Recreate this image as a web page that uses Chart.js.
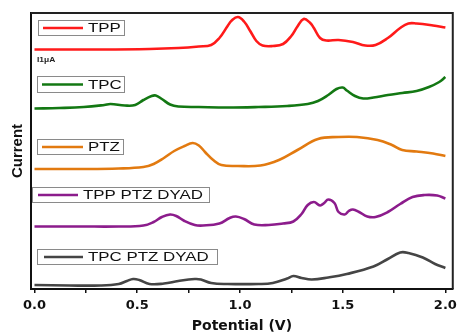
<!DOCTYPE html>
<html>
<head>
<meta charset="utf-8">
<script src="https://cdn.jsdelivr.net/npm/chart.js@4/dist/chart.umd.min.js"></script>
<style>
  html, body { margin: 0; padding: 0; background: #fff; }
  #wrap { width: 462px; height: 333px; }
</style>
</head>
<body>
<div id="wrap"><canvas id="cv" width="462" height="333"></canvas></div>
<script>
// potential (V) vs current (arbitrary units, curves stacked with offsets)
const tppV = [0.00, 0.32, 0.56, 0.70, 0.80, 0.86, 0.90, 0.94, 0.96, 0.99, 1.02, 1.05, 1.08, 1.11, 1.16, 1.21, 1.25, 1.28, 1.31, 1.34, 1.36, 1.39, 1.42, 1.48, 1.55, 1.61, 1.66, 1.72, 1.78, 1.82, 1.86, 1.94, 2.00];
const tppI = [239.5, 239.5, 240, 241, 242.5, 244, 251, 263, 268.5, 272, 267.5, 258, 248, 243.5, 243, 245, 253, 262.5, 270, 266.5, 261, 251, 248.5, 249, 247, 243.5, 244, 251, 261, 265.5, 265.5, 263.5, 261.5];

const tpcV = [0.00, 0.12, 0.24, 0.34, 0.37, 0.44, 0.49, 0.53, 0.57, 0.59, 0.62, 0.66, 0.70, 0.80, 0.94, 1.09, 1.23, 1.33, 1.38, 1.43, 1.47, 1.50, 1.52, 1.56, 1.60, 1.65, 1.72, 1.79, 1.86, 1.92, 1.97, 2.00];
const tpcI = [180.5, 181, 182, 184, 185, 183.5, 184, 189, 193, 193.5, 190, 184.5, 182.5, 182, 181.5, 182, 183, 185, 188, 194, 200, 201.5, 198.5, 193, 190.5, 191.5, 194, 196, 198, 202, 207, 212];

const ptzV = [0.00, 0.22, 0.41, 0.53, 0.58, 0.63, 0.68, 0.73, 0.77, 0.80, 0.83, 0.87, 0.91, 0.99, 1.10, 1.19, 1.28, 1.38, 1.48, 1.57, 1.67, 1.74, 1.79, 1.86, 1.94, 2.00];
const ptzI = [120, 120, 120.5, 122, 125, 131, 138, 143, 146, 143.5, 137, 129, 124, 123, 123.5, 129, 139, 150, 152, 152, 149, 144, 139, 137.5, 135.5, 133];

const tppPtzV = [0.00, 0.22, 0.41, 0.53, 0.58, 0.62, 0.66, 0.69, 0.73, 0.78, 0.82, 0.90, 0.95, 0.98, 1.02, 1.07, 1.14, 1.21, 1.26, 1.30, 1.33, 1.36, 1.39, 1.41, 1.43, 1.46, 1.48, 1.51, 1.53, 1.55, 1.58, 1.62, 1.66, 1.72, 1.78, 1.84, 1.90, 1.96, 2.00];
const tppPtzI = [62.5, 62.5, 62.5, 63.5, 67, 72, 74.5, 73, 68, 64, 63.5, 65.5, 71, 72.5, 70, 64.5, 64, 65.5, 67.5, 75, 84, 87, 83.5, 86, 89.5, 86, 77, 74.5, 78, 79.5, 77, 72.5, 72, 77, 85, 92, 94, 93.5, 90.5];

const tpcPtzV = [0.00, 0.17, 0.32, 0.41, 0.45, 0.48, 0.51, 0.56, 0.63, 0.70, 0.78, 0.81, 0.86, 0.94, 1.09, 1.16, 1.23, 1.26, 1.30, 1.35, 1.43, 1.52, 1.65, 1.72, 1.78, 1.82, 1.89, 1.95, 2.00];
const tpcPtzI = [4, 3.5, 3.5, 5, 8, 10, 9, 5, 5.5, 8, 10, 9.5, 6, 5, 5, 6, 10.5, 13, 11, 9.5, 11.5, 15, 22.5, 30, 36.5, 36, 31.5, 25, 21];

const seriesNames = ['TPP', 'TPC', 'PTZ', 'TPP PTZ DYAD', 'TPC PTZ DYAD'];
const seriesColors = ['#ff1a1a', '#137813', '#e27a10', '#8c1c8c', '#454545'];
const xTickLabels = [0, 0.5, 1.0, 1.5, 2.0];

const pairs = [[tppV, tppI], [tpcV, tpcI], [ptzV, ptzI], [tppPtzV, tppPtzI], [tpcPtzV, tpcPtzI]];

const datasets = pairs.map(([v, i], k) => ({
  label: seriesNames[k],
  data: v.map((x, n) => ({ x: x, y: i[n] })),
  borderColor: seriesColors[k],
  borderWidth: 2.6,
  pointRadius: 0,
  fill: false,
  tension: 0.4
}));

// boxed labels sitting inside the plot + frame top/right
const tagPlugin = {
  id: 'tags',
  afterDatasetsDraw(chart, args, opts) {
    const { ctx, chartArea: a } = chart;
    ctx.save();
    ctx.strokeStyle = '#222';
    ctx.lineWidth = 2;
    ctx.beginPath();
    ctx.moveTo(a.left, a.top);
    ctx.lineTo(a.right, a.top);
    ctx.lineTo(a.right, a.bottom);
    ctx.stroke();

    opts.boxes.forEach((b, i) => {
      const ds = chart.data.datasets[i];
      const x = a.left + b.x, y = a.top + b.y;
      ctx.fillStyle = '#fff';
      ctx.fillRect(x, y, b.w, b.h);
      ctx.strokeStyle = '#8a8a8a';
      ctx.lineWidth = 1;
      ctx.strokeRect(x + 0.5, y + 0.5, b.w, b.h);
      const my = y + b.h / 2 + 0.5;
      ctx.strokeStyle = ds.borderColor;
      ctx.lineWidth = 2.6;
      ctx.beginPath();
      ctx.moveTo(x + b.line[0], my);
      ctx.lineTo(x + b.line[1], my);
      ctx.stroke();
      ctx.fillStyle = '#111';
      ctx.font = '13px "Liberation Sans", Arial, sans-serif';
      ctx.textBaseline = 'middle';
      ctx.save();
      ctx.translate(x + b.line[1] + 5, my + 0.5);
      ctx.scale(1.3, 1);
      ctx.fillText(ds.label, 0, 0);
      ctx.restore();
    });

    const s = opts.scaleNote;
    ctx.fillStyle = '#222';
    ctx.font = 'bold 6.5px "Liberation Sans", Arial, sans-serif';
    ctx.textBaseline = 'middle';
    ctx.translate(a.left + s.x, a.top + s.y);
    ctx.scale(1.3, 1);
    ctx.fillText(s.text, 0, 0);
    ctx.restore();
  }
};

new Chart(document.getElementById('cv'), {
  type: 'line',
  data: { datasets: datasets },
  plugins: [tagPlugin],
  options: {
    responsive: false,
    animation: false,
    layout: { padding: { left: 0, right: 6, top: 13, bottom: 0 } },
    plugins: {
      legend: { display: false },
      tooltip: { enabled: false },
      tags: {
        boxes: [
          { x: 7, y: 7, w: 86, h: 15, line: [5, 45] },
          { x: 6, y: 63, w: 87, h: 16, line: [5, 46] },
          { x: 6, y: 126, w: 86, h: 15, line: [5, 46] },
          { x: 1, y: 174, w: 177, h: 15, line: [6, 46] },
          { x: 6, y: 236, w: 180, h: 15, line: [7, 46] }
        ],
        scaleNote: { x: 6, y: 47, text: 'I1μA' }
      }
    },
    scales: {
      x: {
        type: 'linear',
        min: -0.017,
        max: 2.036,
        afterFit: (s) => { s.height = 44; },
        border: { display: true, color: '#111', width: 2 },
        grid: { drawOnChartArea: false, tickLength: 4, color: '#111', lineWidth: 1.5 },
        ticks: {
          stepSize: 0.25,
          includeBounds: false,
          padding: 5,
          color: '#111',
          font: { family: '"DejaVu Sans", sans-serif', size: 13, weight: 'bold' },
          callback: (v) => xTickLabels.some(t => Math.abs(t - v) < 1e-6) ? v.toFixed(1) : ''
        },
        title: {
          display: true,
          text: 'Potential (V)',
          color: '#111',
          padding: 0,
          font: { family: '"DejaVu Sans", sans-serif', size: 14, weight: 'bold', lineHeight: 1 }
        }
      },
      y: {
        min: 0,
        max: 276,
        afterFit: (s) => { s.width = 31; },
        border: { display: true, color: '#111', width: 2 },
        grid: { display: false },
        ticks: { display: false },
        title: {
          display: true,
          text: 'Current',
          color: '#111',
          padding: { top: 10, bottom: 0 },
          font: { family: '"Liberation Sans", Arial, sans-serif', size: 15, weight: 'bold', lineHeight: 1 }
        }
      }
    }
  }
});
</script>
</body>
</html>
